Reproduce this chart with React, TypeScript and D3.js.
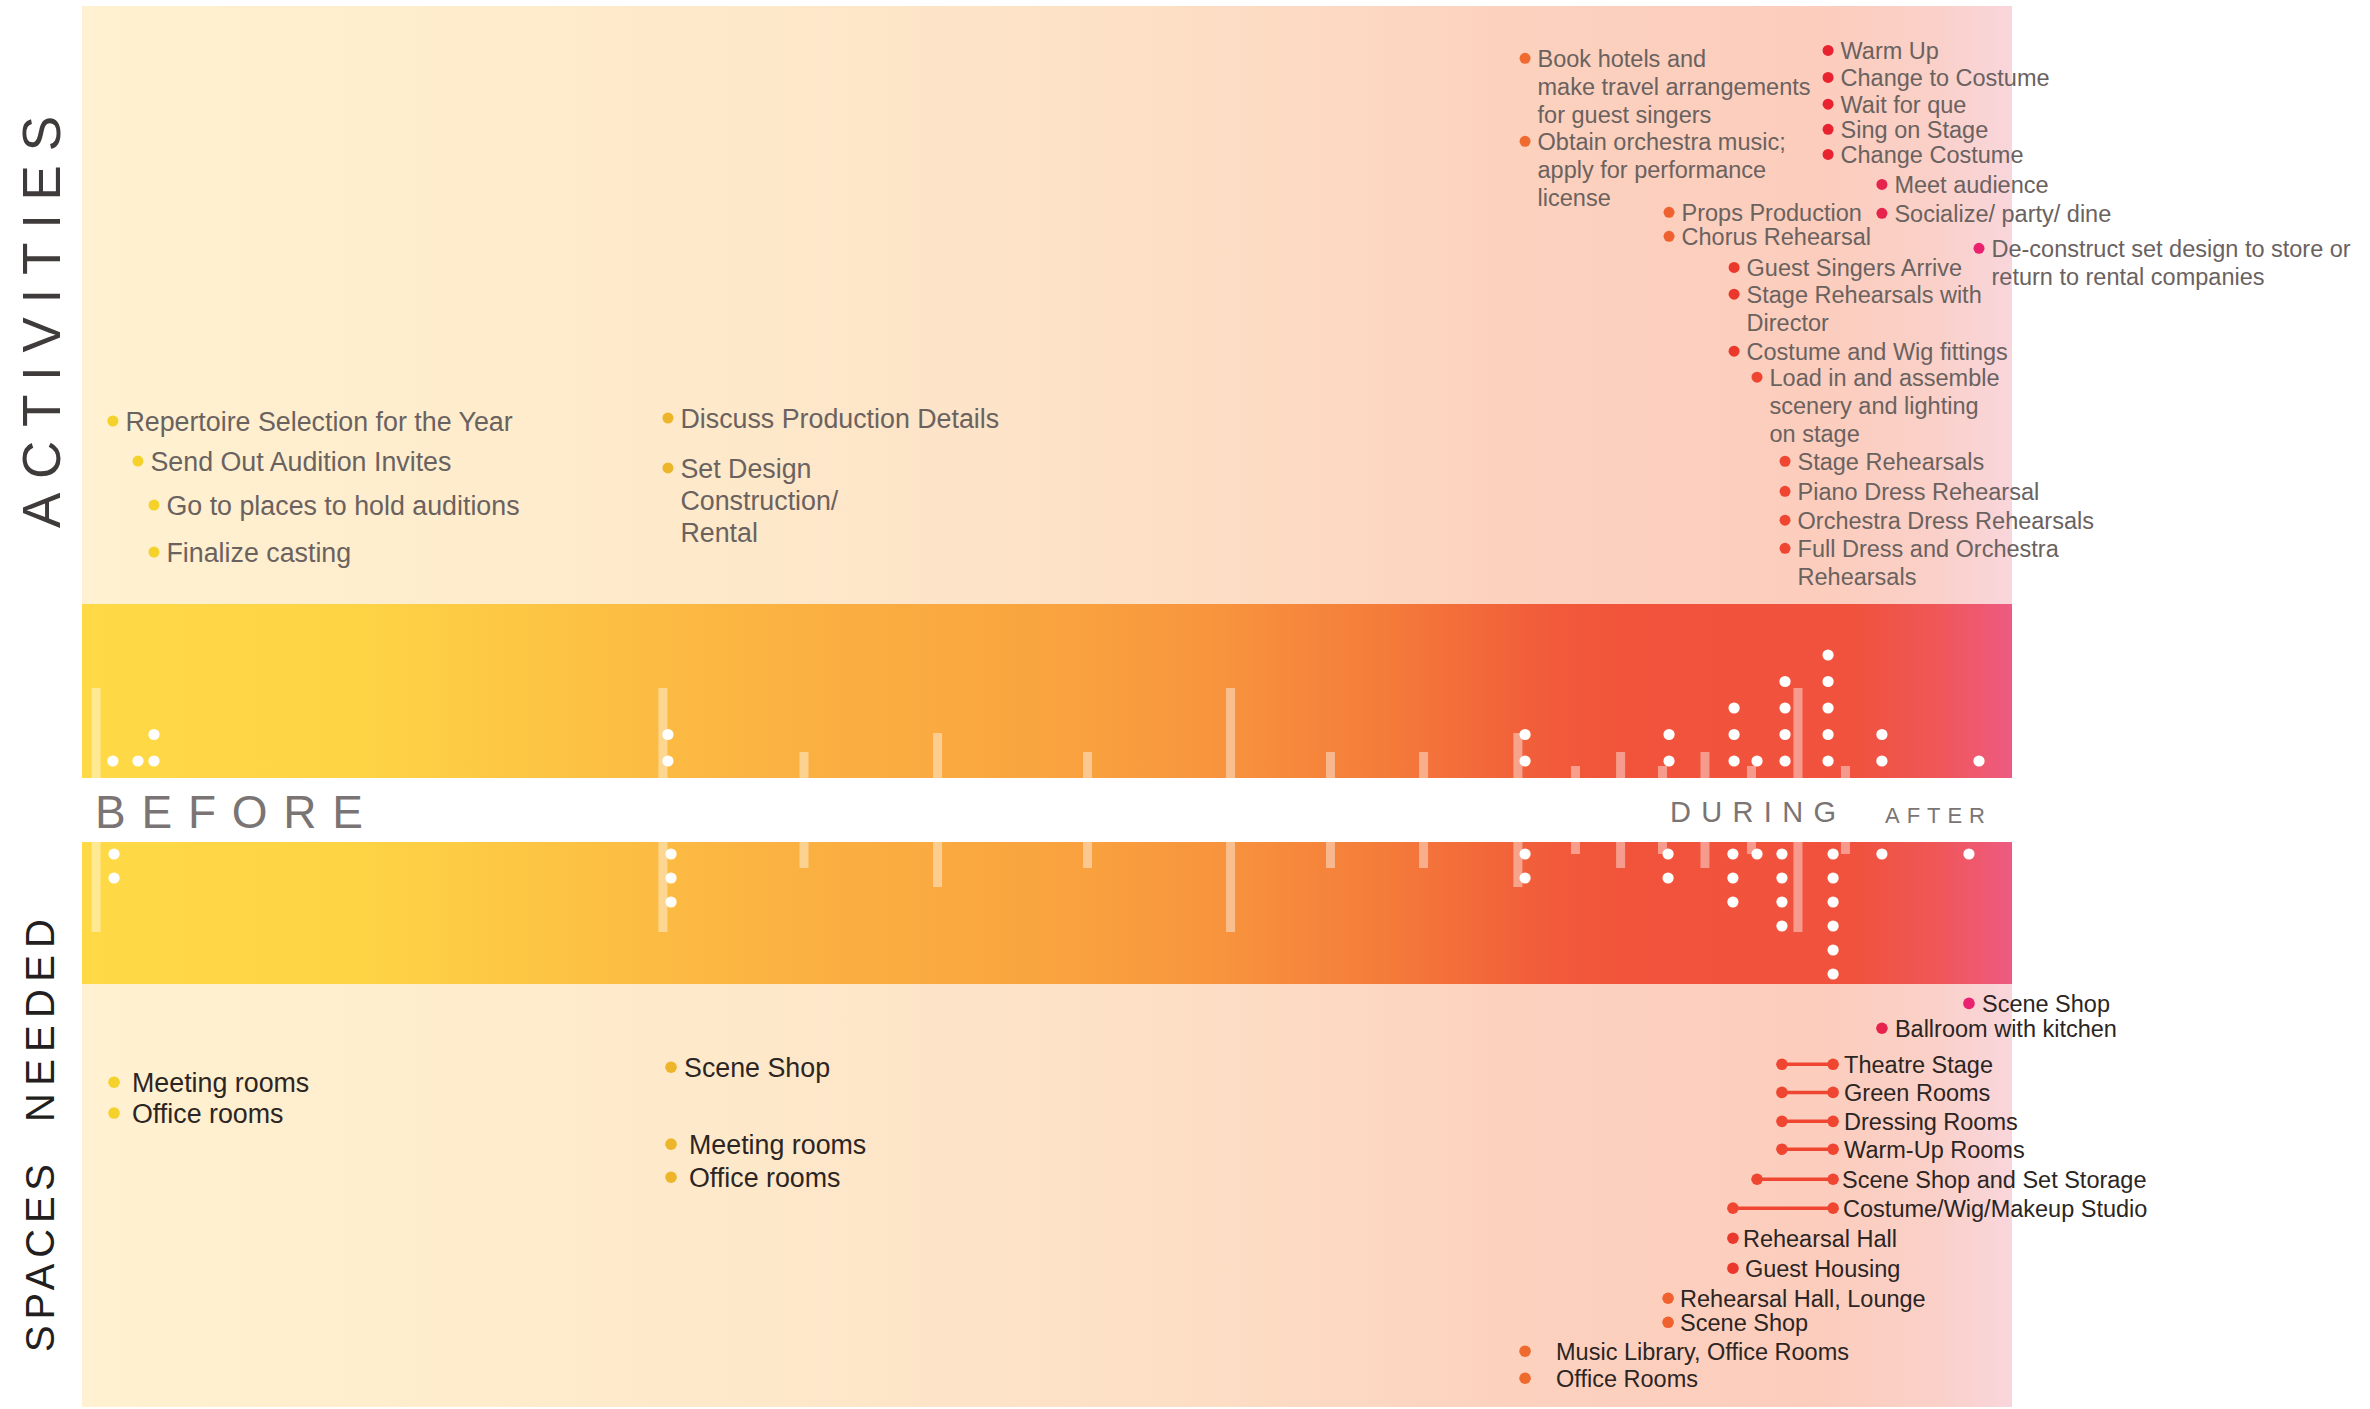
import * as d3 from "d3";

// timeline position, % of the season (0 = start of the year, 100 = after the show)
type Activity = { label: string[]; t: number; stage: string };
type Space = { label: string; start: number; end?: number; stage: string };
type Tick = { t: number; level: number };

const activities: Activity[] = [
  { label: ["Repertoire Selection for the Year"], t: 1.6, stage: "selection" },
  { label: ["Send Out Audition Invites"], t: 2.9, stage: "selection" },
  { label: ["Go to places to hold auditions"], t: 3.73, stage: "selection" },
  { label: ["Finalize casting"], t: 3.73, stage: "selection" },
  { label: ["Discuss Production Details"], t: 30.36, stage: "design" },
  { label: ["Set Design", "Construction/", "Rental"], t: 30.36, stage: "design" },
  { label: ["Book hotels and", "make travel arrangements", "for guest singers"], t: 74.77, stage: "logistics" },
  { label: ["Obtain orchestra music;", "apply for performance", "license"], t: 74.77, stage: "logistics" },
  { label: ["Props Production"], t: 82.23, stage: "production" },
  { label: ["Chorus Rehearsal"], t: 82.23, stage: "production" },
  { label: ["Guest Singers Arrive"], t: 85.6, stage: "arrival" },
  { label: ["Stage Rehearsals with", "Director"], t: 85.6, stage: "arrival" },
  { label: ["Costume and Wig fittings"], t: 85.6, stage: "arrival" },
  { label: ["Load in and assemble", "scenery and lighting", "on stage"], t: 86.79, stage: "loadin" },
  { label: ["Stage Rehearsals"], t: 88.24, stage: "rehearsal" },
  { label: ["Piano Dress Rehearsal"], t: 88.24, stage: "rehearsal" },
  { label: ["Orchestra Dress Rehearsals"], t: 88.24, stage: "rehearsal" },
  { label: ["Full Dress and Orchestra", "Rehearsals"], t: 88.24, stage: "rehearsal" },
  { label: ["Warm Up"], t: 90.47, stage: "performance" },
  { label: ["Change to Costume"], t: 90.47, stage: "performance" },
  { label: ["Wait for que"], t: 90.47, stage: "performance" },
  { label: ["Sing on Stage"], t: 90.47, stage: "performance" },
  { label: ["Change Costume"], t: 90.47, stage: "performance" },
  { label: ["Meet audience"], t: 93.26, stage: "reception" },
  { label: ["Socialize/ party/ dine"], t: 93.26, stage: "reception" },
  { label: ["De-construct set design to store or", "return to rental companies"], t: 98.29, stage: "strike" },
];

const spaces: Space[] = [
  { label: "Meeting rooms", start: 1.66, stage: "selection" },
  { label: "Office rooms", start: 1.66, stage: "selection" },
  { label: "Scene Shop", start: 30.52, stage: "design" },
  { label: "Meeting rooms", start: 30.52, stage: "design" },
  { label: "Office rooms", start: 30.52, stage: "design" },
  { label: "Music Library, Office Rooms", start: 74.77, stage: "logistics" },
  { label: "Office Rooms", start: 74.77, stage: "logistics" },
  { label: "Rehearsal Hall, Lounge", start: 82.18, stage: "production" },
  { label: "Scene Shop", start: 82.18, stage: "production" },
  { label: "Costume/Wig/Makeup Studio", start: 85.54, end: 90.73, stage: "rehearsal" },
  { label: "Rehearsal Hall", start: 85.54, stage: "arrival" },
  { label: "Guest Housing", start: 85.54, stage: "arrival" },
  { label: "Scene Shop and Set Storage", start: 86.79, end: 90.73, stage: "rehearsal" },
  { label: "Theatre Stage", start: 88.08, end: 90.73, stage: "rehearsal" },
  { label: "Green Rooms", start: 88.08, end: 90.73, stage: "rehearsal" },
  { label: "Dressing Rooms", start: 88.08, end: 90.73, stage: "rehearsal" },
  { label: "Warm-Up Rooms", start: 88.08, end: 90.73, stage: "rehearsal" },
  { label: "Ballroom with kitchen", start: 93.26, stage: "reception" },
  { label: "Scene Shop", start: 97.77, stage: "strike" },
];

// tick marks along the timeline (level 4 = longest)
const ticks: Tick[] = [
  { t: 0.73, level: 4 }, { t: 30.1, level: 4 }, { t: 37.41, level: 2 },
  { t: 44.33, level: 3 }, { t: 52.1, level: 2 }, { t: 59.51, level: 4 },
  { t: 64.69, level: 2 }, { t: 69.51, level: 2 }, { t: 74.4, level: 3 },
  { t: 77.38, level: 1 }, { t: 79.72, level: 2 }, { t: 81.89, level: 1 },
  { t: 84.09, level: 2 }, { t: 86.5, level: 1 }, { t: 88.91, level: 4 },
  { t: 91.37, level: 1 },
];

const stages = ["selection", "design", "logistics", "production", "arrival", "loadin", "rehearsal", "performance", "reception", "strike"];

// label layout (text rows), kept apart from the data
const activityRows = [14.33, 15.8, 17.41, 19.13, 14.22, 16.05, 1.0, 4.04, 6.64, 7.52, 8.66, 9.64, 11.73, 12.68, 15.76, 16.86, 17.92, 18.95, 0.71, 1.7, 2.68, 3.6, 4.52, 5.62, 6.68, 7.96];
const spaceRows = [3.96, 5.09, 3.41, 6.23, 7.44, 13.77, 14.76, 11.83, 12.71, 8.53, 9.63, 10.73, 7.47, 3.26, 4.29, 5.35, 6.37, 1.94, 1.03];
const spacePads = [18, 18, 13, 18, 18, 31, 31, 12, 12, 10, 10, 12, 9, 11, 11, 11, 11, 13, 13];

const W = 2370;
const H = 1409;
const FONT = "'Liberation Sans', Arial, Helvetica, sans-serif";

export default function App() {
  const left = 82;
  const right = 2012;
  const top = 6;
  const bottom = 1407;
  const bandTop = 604;
  const stripTop = 778;
  const stripBottom = 842;
  const bandBottom = 984;

  const x = d3.scaleLinear().domain([0, 100]).range([left, right]);
  const color = d3
    .scaleOrdinal<string, string>()
    .domain(stages)
    .range(["#f4d22b", "#edb62a", "#ee6a2e", "#ef612f", "#ea382d", "#ef4530", "#ef4632", "#e8222f", "#e6234d", "#e9216f"]);
  const tickLen = d3.scaleOrdinal<number, number>().domain([1, 2, 3, 4]).range([12, 26, 45, 90]);
  const upDot = d3.scaleLinear().domain([0, 1]).range([761, 734.5]);
  const downDot = d3.scaleLinear().domain([0, 1]).range([854, 878]);
  const topRow = d3.scaleLinear().domain([0, 1]).range([39.7, 67]);
  const bottomRow = d3.scaleLinear().domain([0, 1]).range([bandBottom, bandBottom + 27.3]);
  const bigStages = new Set(["selection", "design"]);

  const activityCounts = Array.from(d3.rollup(activities, (v) => v.length, (d) => d.t));
  const spaceEnds = spaces.flatMap((s) => (s.end != null ? [s.start, s.end] : [s.start]));
  const spaceCounts = Array.from(d3.rollup(spaceEnds, (v) => v.length, (d) => d));

  const lightStops = [
    [0, "#fff1d1"], [0.3, "#feeacb"], [0.55, "#fde0c6"], [0.75, "#fcd1be"],
    [0.9, "#fccdbd"], [0.96, "#fad0c8"], [1, "#f9d6dc"],
  ];
  const bandStops = [
    [0, "#ffd946"], [0.14, "#fed445"], [0.35, "#fbb342"], [0.5, "#f9a43f"],
    [0.58, "#f8963e"], [0.68, "#f47a3a"], [0.76, "#f15b3a"], [0.8, "#f1533b"],
    [0.92, "#f0523e"], [0.96, "#ef5757"], [1, "#ee5a82"],
  ];

  return (
    <svg
      width={W}
      height={H}
      viewBox={`0 0 ${W} ${H}`}
      style={{ position: "absolute", left: 0, top: 0, display: "block", background: "#fff" }}
      fontFamily={FONT}
    >
      <defs>
        <linearGradient id="light" gradientUnits="userSpaceOnUse" x1={left} x2={right} y1={0} y2={0}>
          {lightStops.map(([o, c]) => (
            <stop key={`l${o}`} offset={o as number} stopColor={c as string} />
          ))}
        </linearGradient>
        <linearGradient id="band" gradientUnits="userSpaceOnUse" x1={left} x2={right} y1={0} y2={0}>
          {bandStops.map(([o, c]) => (
            <stop key={`b${o}`} offset={o as number} stopColor={c as string} />
          ))}
        </linearGradient>
      </defs>

      <rect x={left} y={top} width={right - left} height={bandTop - top} fill="url(#light)" />
      <rect x={left} y={bandTop} width={right - left} height={stripTop - bandTop} fill="url(#band)" />
      <rect x={left} y={stripBottom} width={right - left} height={bandBottom - stripBottom} fill="url(#band)" />
      <rect x={left} y={bandBottom} width={right - left} height={bottom - bandBottom} fill="url(#light)" />

      {/* timeline ticks */}
      <g fill="#fff" fillOpacity={0.42}>
        {ticks.map((d, i) => (
          <g key={`tick-${i}`}>
            <rect x={x(d.t) - 4.5} y={stripTop - tickLen(d.level)} width={9} height={tickLen(d.level)} />
            <rect x={x(d.t) - 4.5} y={stripBottom} width={9} height={tickLen(d.level)} />
          </g>
        ))}
      </g>

      {/* count dots */}
      <g fill="#fff">
        {activityCounts.map(([t, n]) =>
          d3.range(n).map((k) => <circle key={`a-${t}-${k}`} cx={x(t)} cy={upDot(k)} r={5.6} />)
        )}
        {spaceCounts.map(([t, n]) =>
          d3.range(n).map((k) => <circle key={`s-${t}-${k}`} cx={x(t)} cy={downDot(k)} r={5.6} />)
        )}
      </g>

      {/* phase labels */}
      <text x={95} y={828} fontSize={46} fill="#7a7574" textLength={268} lengthAdjust="spacing">
        BEFORE
      </text>
      <text x={1670} y={822} fontSize={29} fill="#7a7574" textLength={166} lengthAdjust="spacing">
        DURING
      </text>
      <text x={1885} y={823} fontSize={22} fill="#7a7574" textLength={100} lengthAdjust="spacing">
        AFTER
      </text>

      {/* side titles */}
      <text transform="translate(60,528) rotate(-90)" fontSize={53} fill="#3f3b3a" textLength={412} lengthAdjust="spacing">
        ACTIVITIES
      </text>
      <text transform="translate(54,1352) rotate(-90)" fontSize={40} fill="#231f20" textLength={188} lengthAdjust="spacing">
        SPACES
      </text>
      <text transform="translate(54,1122) rotate(-90)" fontSize={40} fill="#231f20" textLength={203} lengthAdjust="spacing">
        NEEDED
      </text>

      {/* activity labels */}
      <g>
        {activities.map((d, i) => {
          const fs = bigStages.has(d.stage) ? 26.8 : 23.5;
          const base = topRow(activityRows[i]);
          const bx = x(d.t);
          return (
            <g key={`act-${i}`}>
              <circle cx={bx} cy={base - fs * 0.37} r={5.5} fill={color(d.stage)} />
              {d.label.map((line, j) => (
                <text key={j} x={bx + 12.5} y={base + j * fs * 1.2} fontSize={fs} fill="#6a625f">
                  {line}
                </text>
              ))}
            </g>
          );
        })}
      </g>

      {/* space labels */}
      <g>
        {spaces.map((d, i) => {
          const fs = bigStages.has(d.stage) ? 26.8 : 23.5;
          const base = bottomRow(spaceRows[i]);
          const cy = base - fs * 0.37;
          const ex = x(d.end ?? d.start);
          const c = color(d.stage);
          return (
            <g key={`sp-${i}`}>
              {d.end != null && (
                <>
                  <line x1={x(d.start)} x2={ex} y1={cy} y2={cy} stroke={c} strokeWidth={3.5} />
                  <circle cx={x(d.start)} cy={cy} r={5.8} fill={c} />
                </>
              )}
              <circle cx={ex} cy={cy} r={5.8} fill={c} />
              <text x={ex + spacePads[i]} y={base} fontSize={fs} fill="#2b2523">
                {d.label}
              </text>
            </g>
          );
        })}
      </g>
    </svg>
  );
}
